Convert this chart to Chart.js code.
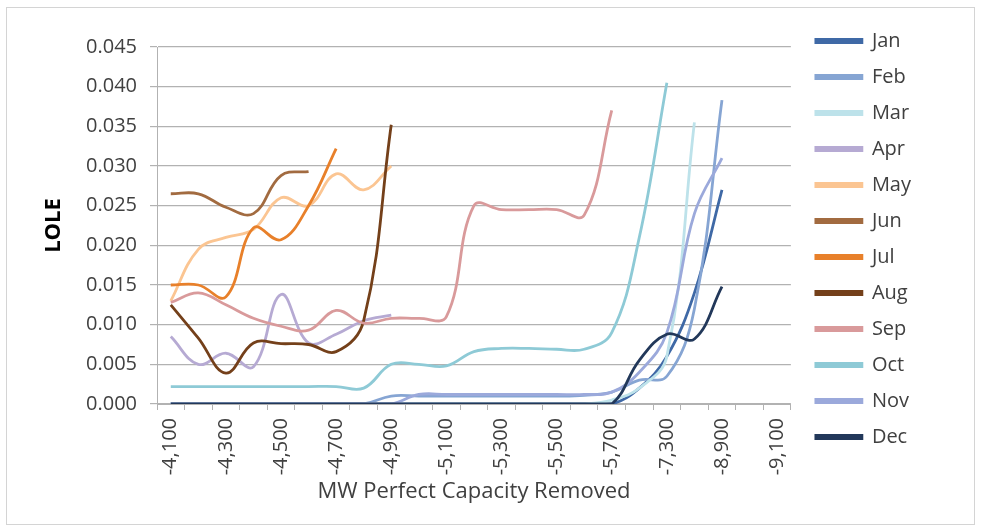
<!DOCTYPE html>
<html>
<head>
<meta charset="utf-8">
<script src="https://cdn.jsdelivr.net/npm/chart.js@4"></script>
<style>
  html, body { margin: 0; padding: 0; background: #ffffff; }
  #wrap { position: absolute; left: 0; top: 0; width: 982px; height: 527px; }
  #frame { position: absolute; left: 6px; top: 7px; width: 969px; height: 518px; border: 1px solid #d4d4d4; box-sizing: border-box; }
  canvas { position: absolute; left: 0; top: 0; }
</style>
</head>
<body>
<div id="wrap">
  <div id="frame"></div>
  <canvas id="c" width="982" height="527"></canvas>
</div>
<script>
const N = null;
const categories = ['-4,100','-4,200','-4,300','-4,400','-4,500','-4,600','-4,700','-4,800','-4,900','-5,000','-5,100','-5,200','-5,300','-5,400','-5,500','-5,600','-5,700','-6,500','-7,300','-8,100','-8,900','-9,000','-9,100'];
const seriesNames = ['Jan','Feb','Mar','Apr','May','Jun','Jul','Aug','Sep','Oct','Nov','Dec'];
const yTickValues = [0, 0.005, 0.010, 0.015, 0.020, 0.025, 0.030, 0.035, 0.040, 0.045];

const jan = [0,0,0,0,0,0,0,0,0,0,0,0,0,0,0,0,0, 0.002, 0.006, 0.014, 0.027, N, N];
const feb = [0,0,0,0,0,0,0,0, 0.001,0.001,0.001,0.001,0.001,0.001,0.001,0.0011, 0.0015, 0.003, 0.0035, 0.012, 0.0383, N, N];
const mar = [0,0,0,0,0,0,0,0,0,0,0,0,0,0,0,0, 0.0005, 0.002, 0.006, 0.0355, N, N, N];
const apr = [0.0085, 0.005, 0.0064, 0.0047, 0.0138, 0.0077, 0.0088, 0.0105, 0.0112, N,N,N,N,N,N,N,N,N,N,N,N,N,N];
const may = [0.013, 0.0195, 0.021, 0.022, 0.026, 0.025, 0.029, 0.027, 0.030, N,N,N,N,N,N,N,N,N,N,N,N,N,N];
const jun = [0.0265, 0.0265, 0.0248, 0.024, 0.0288, 0.0293, N,N,N,N,N,N,N,N,N,N,N,N,N,N,N,N,N];
const jul = [0.015, 0.015, 0.0135, 0.0222, 0.0207, 0.025, 0.0322, N,N,N,N,N,N,N,N,N,N,N,N,N,N,N,N];
const aug = [0.0125, 0.0083, 0.0039, 0.0077, 0.0076, 0.0075, 0.0066, 0.0105, 0.0352, N,N,N,N,N,N,N,N,N,N,N,N,N,N];
const sep = [0.0128, 0.014, 0.0125, 0.0108, 0.0098, 0.0093, 0.0118, 0.0102, 0.0108, 0.0108, 0.011, 0.025, 0.0245, 0.0245, 0.0245, 0.0238, 0.037, N,N,N,N,N,N];
const oct = [0.0022,0.0022,0.0022,0.0022,0.0022,0.0022,0.0022, 0.002, 0.005, 0.005, 0.0048, 0.0066, 0.007, 0.007, 0.0069, 0.0069, 0.009, 0.021, 0.0405, N,N,N,N];
const nov = [0,0,0,0,0,0,0,0,0, 0.0012,0.0012,0.0012,0.0012,0.0012,0.0012,0.0012, 0.0015, 0.004, 0.009, 0.024, 0.031, N, N];
const dec = [0,0,0,0,0,0,0,0,0,0,0,0,0,0,0,0,0, 0.0055, 0.0088, 0.0082, 0.0148, N, N];

const seriesValues = [jan, feb, mar, apr, may, jun, jul, aug, sep, oct, nov, dec];
const seriesColors = ['#3f69a6','#86a5d3','#bde2ea','#b6aad3','#fbc592','#a26b40','#e8802a','#74401a','#d99a9b','#8ecad6','#9ba9db','#22385a'];

const FONT = '"Open Sans", "DejaVu Sans", sans-serif';
const TEXT = '#404040';
const GRID = '#b2b2b2';

const datasets = seriesNames.map((name, i) => ({
  label: name,
  data: seriesValues[i],
  borderColor: seriesColors[i],
  backgroundColor: seriesColors[i],
  borderWidth: 2.8,
  pointRadius: 0,
  pointHoverRadius: 0,
  tension: 0.4,
  fill: false,
  spanGaps: false,
  order: seriesNames.length - i
}));

new Chart(document.getElementById('c'), {
  type: 'line',
  data: { labels: categories, datasets },
  options: {
    responsive: false,
    animation: false,
    events: [],
    layout: { padding: { left: 38, right: 61, top: 15, bottom: 15 } },
    plugins: {
      tooltip: { enabled: false },
      title: { display: true, text: '', fullSize: false, padding: 0, font: { size: 32, lineHeight: 1 } },
      legend: {
        position: 'right',
        align: 'start',
        labels: {
          boxWidth: 46,
          boxHeight: 3,
          padding: 16,
          color: TEXT,
          font: { family: FONT, size: 20 },
          sort: (a, b) => a.datasetIndex - b.datasetIndex
        }
      }
    },
    scales: {
      x: {
        type: 'category',
        offset: true,
        grid: { display: true, offset: true, drawOnChartArea: false, drawTicks: true, tickLength: 6, color: GRID },
        border: { display: true, color: GRID, width: 1 },
        ticks: {
          autoSkip: false,
          maxRotation: 90,
          minRotation: 90,
          padding: 8,
          color: TEXT,
          font: { family: FONT, size: 20 },
          callback: function (val, idx) { return idx % 2 === 0 ? categories[idx] : ''; }
        },
        title: { display: true, text: 'MW Perfect Capacity Removed', color: TEXT, font: { family: FONT, size: 22 }, padding: { top: 0, bottom: 7 } },
        afterFit: (s) => { s.height = 527 - 404 - 15; }
      },
      y: {
        type: 'linear',
        position: 'left',
        min: 0,
        max: 0.045,
        afterBuildTicks: (s) => { s.ticks = yTickValues.map(v => ({ value: v })); },
        grid: { color: GRID, lineWidth: 1.2, drawTicks: true, tickLength: 7 },
        border: { display: true, color: GRID, width: 1 },
        ticks: {
          padding: 13,
          color: TEXT,
          font: { family: FONT, size: 20 },
          callback: (v) => Number(v).toFixed(3)
        },
        title: { display: true, text: 'LOLE', color: '#000000', font: { family: FONT, size: 22, weight: 'bold' }, padding: { top: 3, bottom: 0 } },
        afterFit: (s) => { s.width = 157 - 38; }
      },
      yPad: {
        type: 'linear',
        position: 'right',
        display: true,
        grid: { display: false },
        border: { display: false },
        ticks: { display: false },
        afterFit: (s) => { s.width = 9; }
      }
    }
  }
});
</script>
</body>
</html>
